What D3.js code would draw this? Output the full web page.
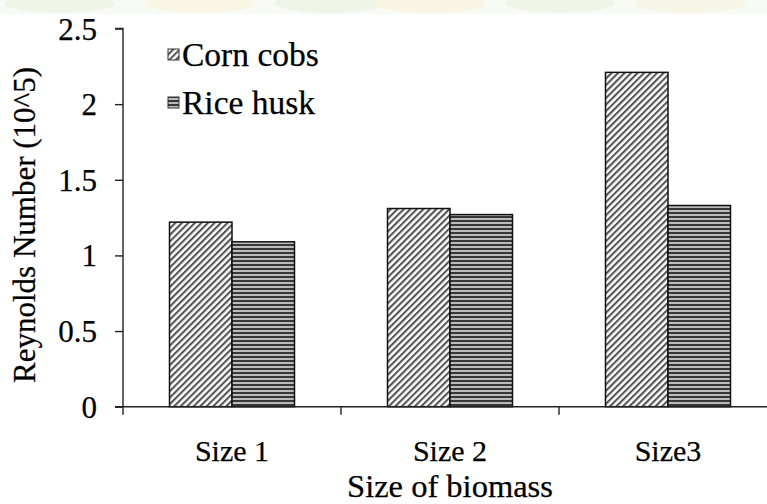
<!DOCTYPE html>
<html><head><meta charset="utf-8">
<script src="https://cdn.jsdelivr.net/npm/d3@7"></script>
<style>
body{margin:0;background:#fff}
svg{display:block}
svg text{font-family:"Liberation Serif","Times New Roman","DejaVu Serif",serif !important;fill:#000;stroke:#000;stroke-width:0.25px}
</style>
</head><body><svg id="c" width="767" height="504"></svg>
<script>
const categories = ["Size 1", "Size 2", "Size3"];
const seriesNames = ["Corn cobs", "Rice husk"];
const cornCobs = [1.22, 1.31, 2.21];
const riceHusk = [1.09, 1.27, 1.33];
const yTicks = [0, 0.5, 1, 1.5, 2, 2.5];
const yTickLabels = ["0", "0.5", "1", "1.5", "2", "2.5"];
const xTitle = "Size of biomass";
const yTitle = "Reynolds Number (10^5)";

(function(){
const FONT = '"Liberation Serif", "Times New Roman", serif';
const svg = d3.select("#c").attr("font-family", FONT);
const W = 767;
const mLeft = 123, mBottom = 406.7, mTop = 28.5;

// faint watermark band at the top of the source image
const wm = svg.append("g").attr("opacity",0.7);
wm.append("rect").attr("x",0).attr("y",0).attr("width",W).attr("height",14).attr("fill","#f5f9f1");
[[60,"#e9f2e1"],[200,"#f8f3da"],[330,"#e8f1df"],[430,"#f7f1d6"],[560,"#e9f2e1"],[690,"#f5f1dc"]].forEach(([cx,c])=>{
  wm.append("ellipse").attr("cx",cx).attr("cy",3).attr("rx",55).attr("ry",10).attr("fill",c);
});

const defs = svg.append("defs");
const pc = defs.append("pattern").attr("id","corn").attr("patternUnits","userSpaceOnUse")
  .attr("width",4.6).attr("height",4.6).attr("patternTransform","rotate(45)");
pc.append("rect").attr("width",4.6).attr("height",4.6).attr("fill","#fff");
pc.append("rect").attr("x",0).attr("y",0).attr("width",2.1).attr("height",4.6).attr("fill","#555");
const pr = defs.append("pattern").attr("id","rice").attr("patternUnits","userSpaceOnUse")
  .attr("width",8).attr("height",4);
pr.append("rect").attr("width",8).attr("height",4).attr("fill","#bbb");
pr.append("rect").attr("y",0).attr("width",8).attr("height",2).attr("fill","#383838");
const fills = {"Corn cobs":"url(#corn)","Rice husk":"url(#rice)"};

const x0 = d3.scaleBand().domain(categories).range([mLeft, mLeft + 3*218]).padding(0);
const x1 = d3.scaleBand().domain(seriesNames).range([0, x0.bandwidth()]).paddingInner(0).paddingOuter(0.744);
const y = d3.scaleLinear().domain([0, 2.5]).range([mBottom, mTop]);

const rows = categories.map((c,i)=>({cat:c, vals:[
  {s:"Corn cobs", v:cornCobs[i]}, {s:"Rice husk", v:riceHusk[i]}]}));

const bars = svg.append("g");
rows.forEach(r=>{
  bars.selectAll(null).data(r.vals).enter().append("rect")
    .attr("x", d=>x0(r.cat)+x1(d.s))
    .attr("y", d=>y(d.v))
    .attr("width", x1.bandwidth())
    .attr("height", d=>y(0)-y(d.v))
    .attr("fill", d=>fills[d.s])
    .attr("stroke","#111").attr("stroke-width",1.5);
});

const ya = svg.append("g").attr("transform",`translate(${mLeft},0)`)
  .call(d3.axisLeft(y).tickValues(yTicks).tickSize(8).tickPadding(18)
    .tickFormat((d,i)=>yTickLabels[i]));
ya.attr("font-family", FONT).attr("font-size", 31);
ya.select(".domain").attr("stroke","#222").attr("stroke-width",1.4).attr("d",`M-8,${mTop}H0V${mBottom}`);
ya.selectAll(".tick line").attr("stroke","#222").attr("stroke-width",1.4);
ya.selectAll(".tick text").attr("fill","#000").attr("dy","0.34em");

const xa = svg.append("g");
xa.append("line").attr("x1",mLeft-8).attr("x2",x0.range()[1]).attr("y1",mBottom).attr("y2",mBottom)
  .attr("stroke","#222").attr("stroke-width",1.4);
xa.selectAll(null).data(categories).enter().append("line")
  .attr("x1",d=>x0(d)).attr("x2",d=>x0(d)).attr("y1",mBottom).attr("y2",mBottom+8)
  .attr("stroke","#222").attr("stroke-width",1.4);
xa.selectAll(null).data(categories).enter().append("text")
  .attr("x",d=>x0(d)+x0.bandwidth()/2).attr("y",461)
  .attr("text-anchor","middle").attr("font-size",30).text(d=>d);

svg.append("text").attr("x",x0(categories[1])+x0.bandwidth()/2).attr("y",497)
  .attr("text-anchor","middle").attr("font-size",32.5).text(xTitle);
svg.append("text").attr("transform","translate(35,225) rotate(-90)")
  .attr("text-anchor","middle").attr("font-size",31).text(yTitle);

const lg = svg.append("g");
seriesNames.forEach((s,i)=>{
  const by = 66 + i*48;
  lg.append("rect").attr("x",168).attr("y",by-17).attr("width",11).attr("height",11)
    .attr("fill",fills[s]).attr("stroke","#333").attr("stroke-width",1);
  lg.append("text").attr("x",182).attr("y",by).attr("font-size",33.5).text(s);
});
})();
</script>
</body></html>
